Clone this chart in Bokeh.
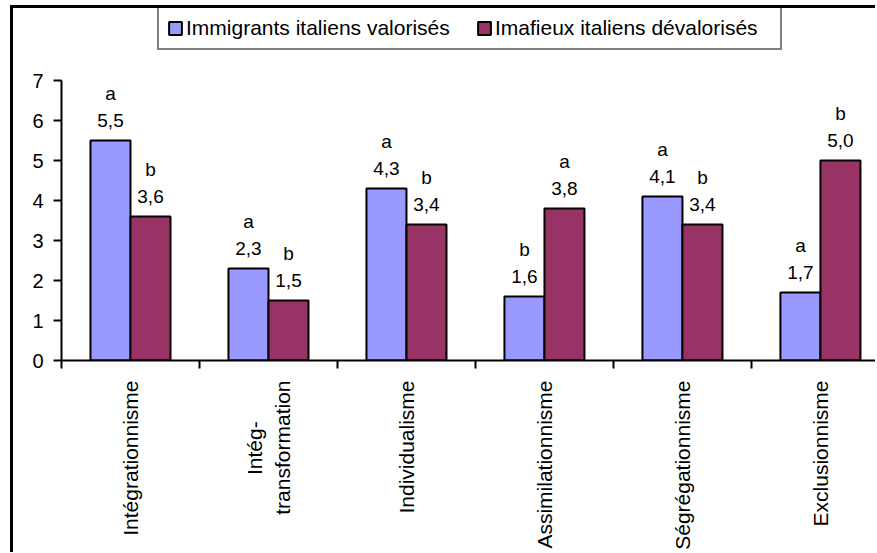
import math
from bokeh.plotting import figure
from bokeh.models import Range1d, FixedTicker, ColumnDataSource
from bokeh.core.properties import value
from bokeh.embed import file_html
from bokeh.resources import INLINE

categories = ["Intégrationnisme", "Intég-\u00a0\u00a0\u00a0\u00a0\u00a0\u00a0\u00a0\ntransformation", "Individualisme",
              "Assimilationnisme", "Ségrégationnisme", "Exclusionnisme"]
immigrants = [5.5, 2.3, 4.3, 1.6, 4.1, 1.7]
mafieux = [3.6, 1.5, 3.4, 3.8, 3.4, 5.0]
letters_imm = ["a", "a", "a", "b", "a", "a"]
letters_maf = ["b", "b", "b", "a", "b", "b"]
series_names = ["Immigrants italiens valorisés", "Imafieux italiens dévalorisés"]
y_ticks = [0, 1, 2, 3, 4, 5, 6, 7]

FONT = "Liberation Sans"
BLUE = "#9999FF"
MAROON = "#993366"

idx = list(range(len(categories)))
centers = [i + 0.5 for i in idx]
bar_w = 0.29
x_imm = [c - bar_w / 2 for c in centers]
x_maf = [c + bar_w / 2 for c in centers]

def fmt(v):
    return f"{v:.1f}".replace(".", ",")

src_imm = ColumnDataSource(dict(x=x_imm, top=immigrants,
                                lab=[f"{l}\n{fmt(v)}" for l, v in zip(letters_imm, immigrants)]))
src_maf = ColumnDataSource(dict(x=x_maf, top=mafieux,
                                lab=[f"{l}\n{fmt(v)}" for l, v in zip(letters_maf, mafieux)]))

p = figure(frame_width=814, frame_height=352,
           x_range=Range1d(0, 5.899), y_range=Range1d(0, 8.8),
           output_backend="svg", toolbar_location=None,
           min_border_left=48, min_border_right=0, min_border_top=0, min_border_bottom=190)
p.styles = {"margin-left": "10px", "margin-top": "5px",
            "border-left": "3px solid black", "border-top": "3px solid black"}

p.vbar(x="x", top="top", width=bar_w, bottom=0, source=src_imm,
       fill_color=BLUE, line_color="black", line_width=2, legend_label=series_names[0])
p.vbar(x="x", top="top", width=bar_w, bottom=0, source=src_maf,
       fill_color=MAROON, line_color="black", line_width=2, legend_label=series_names[1])

for src in (src_imm, src_maf):
    p.text(x="x", y="top", text="lab", source=src, text_align="center",
           text_baseline="bottom", y_offset=-10, text_font=value(FONT),
           text_font_size="19px", text_line_height=1.25, text_color="black")

p.xgrid.visible = False
p.ygrid.visible = False
p.outline_line_color = None

ya = p.yaxis[0]
ya.ticker = FixedTicker(ticks=y_ticks)
ya.bounds = (y_ticks[0], y_ticks[-1])
ya.major_tick_out = 8
ya.major_tick_in = 0
ya.minor_tick_out = 0
ya.minor_tick_in = 0
ya.axis_line_width = 2
ya.major_tick_line_width = 2
ya.axis_line_color = "black"
ya.major_label_text_font = FONT
ya.major_label_text_font_size = "20px"
ya.major_label_text_color = "black"
ya.major_label_standoff = 10

xa = p.xaxis[0]
xa.ticker = FixedTicker(ticks=centers, minor_ticks=[float(i) for i in range(len(categories) + 1)])
xa.major_label_overrides = {c: lab for c, lab in zip(centers, categories)}
xa.major_tick_out = 0
xa.major_tick_in = 0
xa.minor_tick_out = 8
xa.minor_tick_in = 0
xa.minor_tick_line_width = 2
xa.minor_tick_line_color = "black"
xa.axis_line_width = 2
xa.axis_line_color = "black"
xa.major_label_orientation = math.pi / 2
xa.major_label_text_font = FONT
xa.major_label_text_font_size = "21px"
xa.major_label_text_color = "black"
xa.major_label_standoff = 12

lg = p.legend[0]
lg.orientation = "horizontal"
lg.location = (96, 310)
lg.border_line_color = "black"
lg.border_line_width = 2
lg.padding = 8
lg.spacing = 13
lg.label_standoff = 3
lg.glyph_width = 16
lg.glyph_height = 16
lg.label_height = 24
lg.label_width = 277
lg.label_text_font = FONT
lg.label_text_font_size = "21px"
lg.label_text_color = "black"
lg.background_fill_alpha = 1.0
lg.margin = 0

open("out.html", "w").write(file_html(p, INLINE))
